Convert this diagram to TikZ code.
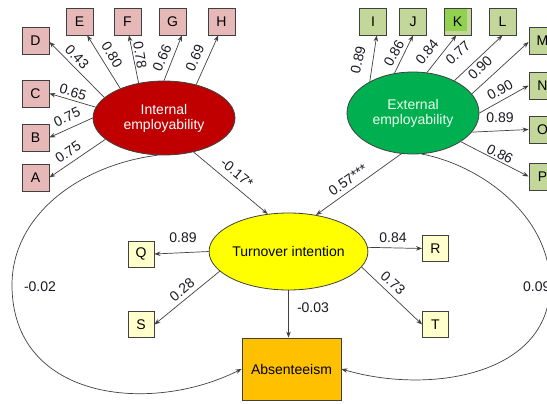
\documentclass[tikz,border=0pt]{standalone}
\usepackage{fontspec}
\setmainfont{Liberation Sans}
\usetikzlibrary{arrows.meta,shapes.geometric}
\definecolor{pinkbox}{HTML}{E6B8B7}
\definecolor{intred}{HTML}{C00000}
\definecolor{extgreen}{HTML}{00B050}
\definecolor{greenbox}{HTML}{C4D79B}
\definecolor{kgreen}{HTML}{92D050}
\definecolor{yellowbox}{HTML}{FFFFCC}
\definecolor{turnyellow}{HTML}{FFFF00}
\definecolor{absorange}{HTML}{FFC000}
\definecolor{edgegray}{HTML}{404040}
\definecolor{labelcol}{HTML}{1A1A24}
\begin{document}
\begin{tikzpicture}[x=1pt,y=-1pt,
  every node/.style={font=\fontsize{14}{16}\selectfont, inner sep=0pt},
  itembox/.style={draw=edgegray, line width=0.8pt, minimum width=27pt, minimum height=27pt},
  pinkitem/.style={itembox, fill=pinkbox},
  greenitem/.style={itembox, fill=greenbox},
  yellowitem/.style={itembox, fill=yellowbox, minimum width=26pt, minimum height=26pt},
  latent/.style={ellipse, draw=edgegray, line width=0.8pt, align=center, font=\fontsize{14}{15}\selectfont},
  conn/.style={draw=edgegray, line width=0.7pt, -{Stealth[length=6pt,width=4.5pt]}},
  lab/.style={text=labelcol, inner sep=1pt},
]
\useasboundingbox (0,0) rectangle (547,404);
\clip (0,0) rectangle (547,404);

% latent variables
\node[latent, fill=intred, text=white, minimum width=142pt, minimum height=74pt] (int) at (164,118) {Internal\\employability};
\node[latent, fill=extgreen, text=white!92!green, minimum width=132pt, minimum height=82pt] (ext) at (413,113) {External\\employability};
\node[latent, fill=turnyellow, text=black, minimum width=141pt, minimum height=77pt] (turn) at (288.5,251.5) {Turnover intention};
\node[draw=edgegray, line width=0.8pt, fill=absorange, minimum width=99pt, minimum height=62pt] (abs) at (291.5,369) {Absenteeism};

% internal indicators
\node[pinkitem] (D) at (35.5,40.5) {D};
\node[pinkitem] (E) at (79.5,21.5) {E};
\node[pinkitem] (F) at (127.5,21.5) {F};
\node[pinkitem] (G) at (172.5,21.5) {G};
\node[pinkitem] (H) at (221.5,21.5) {H};
\node[pinkitem] (C) at (35.5,93.5) {C};
\node[pinkitem] (B) at (35.5,137.5) {B};
\node[pinkitem] (A) at (35.5,177.5) {A};

% external indicators
\node[greenitem] (I) at (373,21.5) {I};
\node[greenitem] (J) at (413,21.5) {J};
\node[greenitem, path picture={\fill[kgreen] ([shift={(1,1)}]path picture bounding box.north west) rectangle ([shift={(-4,-4)}]path picture bounding box.south east);}] (K) at (457.5,21.5) {K};
\node[greenitem] (L) at (502.5,21.5) {L};
\node[greenitem] (M) at (542.5,40.5) {M};
\node[greenitem] (N) at (542.5,85.5) {N};
\node[greenitem] (O) at (542.5,129.5) {O};
\node[greenitem] (P) at (542.5,176.5) {P};

% turnover indicators
\node[yellowitem] (Q) at (141,254) {Q};
\node[yellowitem] (S) at (141,324.5) {S};
\node[yellowitem] (R) at (435.5,248.5) {R};
\node[yellowitem] (T) at (435.5,324.5) {T};

% internal loadings
\draw[conn] (int.161) -- (D.-6);
\draw[conn] (int.146) -- (E.-61);
\draw[conn] (int.126) -- (F.-84);
\draw[conn] (int.90) -- (G.-56);
\draw[conn] (int.46) -- (H.-103);
\draw[conn] (int.171) -- (C.east);
\draw[conn] (int.180) -- (B.east);
\draw[conn] (int.200) -- (A.east);

% external loadings
\draw[conn] (ext.144) -- (I.-75);
\draw[conn] (ext.115) -- (J.south);
\draw[conn] (ext.71) -- (K.-95);
\draw[conn] (ext.38) -- (L.south);
\draw[conn] (ext.18) -- (M.186);
\draw[conn] (ext.0) -- (N.west);
\draw[conn] (ext.-18) -- (O.west);
\draw[conn] (ext.-31) -- (P.west);

% structural paths
\draw[conn] (int.-49.5) -- (turn.119);
\draw[conn] (ext.-106) -- (turn.53);
\draw[conn] (turn.180) -- (Q.east);
\draw[conn] (turn.196) -- (S.east);
\draw[conn] (turn.3) -- (R.west);
\draw[conn] (turn.-12) -- (T.west);
\draw[conn] (turn.south) -- (turn.south |- abs.north);

% curved paths
\draw[conn] (int.-100) .. controls (80,165) and (12,215) .. (12,285)
  .. controls (12,400) and (150,415) .. (abs.west);
\draw[conn] (ext.-78) .. controls (480,165) and (550,215) .. (550,285)
  .. controls (550,375) and (430,395) .. (abs.east);

% labels
\node[lab, rotate=-46.6] (l1) at (77,57) {0.43};
\node[lab, rotate=-58.7] (l2) at (112,55) {0.80};
\node[lab, rotate=-80.8] (l3) at (140,55) {0.78};
\node[lab, rotate=66.2] (l4) at (162,58) {0.66};
\node[lab, rotate=66.5] (l5) at (195,58) {0.69};
\node[lab, rotate=-17] (l6) at (73,92) {0.65};
\node[lab, rotate=24.9] (l7) at (67,117) {0.75};
\node[lab, rotate=34] (l8) at (68,152) {0.75};
\node[lab, rotate=-39.5] (l9) at (237,173) {-0.17*};

\node[lab, rotate=76.9] (m1) at (358,60) {0.89};
\node[lab, rotate=61.5] (m2) at (394,53) {0.86};
\node[lab, rotate=50.4] (m3) at (427,52) {0.84};
\node[lab, rotate=42.5] (m4) at (458,53) {0.77};
\node[lab, rotate=43.9] (m5) at (480,68) {0.90};
\node[lab, rotate=29.7] (m6) at (500,90) {0.90};
\node[lab] (m7) at (500,118) {0.89};
\node[lab, rotate=-27.3] (m8) at (500,154) {0.86};
\node[lab, rotate=35.2] (m9) at (348,180) {0.57***};

\node[lab] (t1) at (183,238) {0.89};
\node[lab, rotate=39.7] (t2) at (182,290) {0.28};
\node[lab] (t3) at (393,238) {0.84};
\node[lab, rotate=-42.2] (t4) at (393,283) {0.73};
\node[lab] (t5) at (313,308) {-0.03};
\node[lab] (c1) at (40,287) {-0.02};
\node[lab, anchor=west] (c2) at (522,287) {0.09};
\end{tikzpicture}
\end{document}
